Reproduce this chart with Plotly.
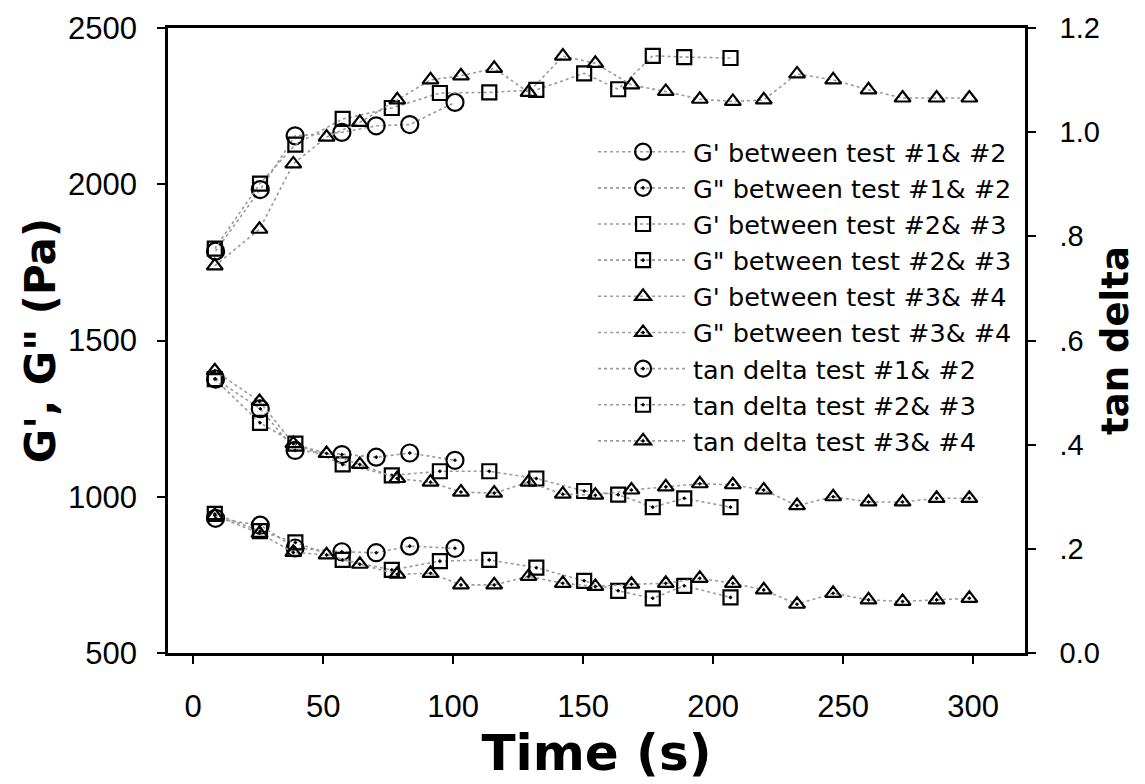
import plotly.graph_objects as go

# ---- data ----
t_12 = [8.6, 25.8, 39.2, 57.2, 70.4, 83.3, 100.7]
t_23 = [8.3, 25.7, 39.3, 57.5, 76.4, 94.9, 113.9, 132.0, 150.4, 163.5, 176.8, 188.9, 206.7]
t_34 = [8.3, 25.5, 38.5, 51.3, 64.1, 78.5, 91.3, 103.0, 115.8, 129.0, 142.2, 154.7,
        168.6, 181.8, 194.9, 207.6, 219.5, 232.3, 246.2, 259.8, 272.9, 286.0, 298.6]

gp_12 = [1786, 1983, 2155, 2166, 2187, 2191, 2262]
gp_23 = [1794, 2002, 2127, 2209, 2244, 2292, 2294, 2302, 2355, 2304, 2411, 2407, 2404]
gp_34 = [1739, 1856, 2065, 2151, 2198, 2270, 2334, 2347, 2371, 2294, 2410, 2387,
         2318, 2297, 2272, 2265, 2270, 2353, 2334, 2302, 2276, 2276, 2276]

gpp_12 = [931, 909, 836, 824, 821, 842, 835]
gpp_23 = [945, 890, 854, 798, 766, 794, 798, 773, 731, 699, 675, 715, 678]
gpp_34 = [940, 883, 822, 814, 784, 752, 755, 718, 718, 745, 723, 713,
          720, 723, 739, 723, 702, 656, 691, 670, 665, 670, 675]

tan_12 = [0.526, 0.469, 0.389, 0.381, 0.376, 0.384, 0.370]
tan_23 = [0.526, 0.442, 0.402, 0.362, 0.341, 0.349, 0.349, 0.335, 0.311, 0.304, 0.280, 0.297, 0.280]
tan_34 = [0.542, 0.483, 0.402, 0.383, 0.362, 0.335, 0.328, 0.309, 0.307, 0.328, 0.305, 0.303,
          0.313, 0.319, 0.325, 0.323, 0.313, 0.283, 0.300, 0.290, 0.290, 0.297, 0.297]

x_ticks = [0, 50, 100, 150, 200, 250, 300]
y1_ticks = [500, 1000, 1500, 2000, 2500]
y2_ticks = [0.0, 0.2, 0.4, 0.6, 0.8, 1.0, 1.2]
y2_tick_text = ["0.0", ".2", ".4", ".6", ".8", "1.0", "1.2"]

series = [
    ("G' between test #1& #2", t_12, gp_12, "circle-open", 17, "y"),
    ('G" between test #1& #2', t_12, gpp_12, "circle-open-dot", 17, "y"),
    ("G' between test #2& #3", t_23, gp_23, "square-open", 14, "y"),
    ('G" between test #2& #3', t_23, gpp_23, "square-open-dot", 14, "y"),
    ("G' between test #3& #4", t_34, gp_34, "triangle-up-open", 14, "y"),
    ('G" between test #3& #4', t_34, gpp_34, "triangle-up-open-dot", 14, "y"),
    ("tan delta test #1& #2", t_12, tan_12, "circle-open-dot", 17, "y2"),
    ("tan delta test #2& #3", t_23, tan_23, "square-open-dot", 14, "y2"),
    ("tan delta test #3& #4", t_34, tan_34, "triangle-up-open-dot", 14, "y2"),
]

fig = go.Figure()
for name, xs, ys, sym, sz, ax in series:
    fig.add_trace(go.Scatter(
        x=xs, y=ys, name=name, yaxis=ax, mode="lines+markers",
        line=dict(color="#9a9a9a", width=1.6, dash="dot"),
        marker=dict(symbol=sym, size=sz, color="black", line=dict(color="black", width=2.2)),
    ))

tick_font = "Liberation Sans, Arial, sans-serif"
title_font = "DejaVu Sans, Liberation Sans, sans-serif"
axis_common = dict(showgrid=False, zeroline=False, showline=True, linecolor="black",
                   linewidth=2.5, ticks="outside", ticklen=8, tickwidth=1.5,
                   tickcolor="black", automargin=False)

# the page body adds an 8px margin, so the figure is 8px smaller than the window
fig.update_layout(
    width=1137, height=776,
    margin=dict(l=160, r=120, t=20, b=131),
    paper_bgcolor="white", plot_bgcolor="white",
    font=dict(family=tick_font, color="black", size=30),
    showlegend=True,
    legend=dict(x=0.496, y=0.839, xanchor="left", yanchor="top",
                bgcolor="rgba(0,0,0,0)",
                font=dict(size=25.5, family=title_font),
                itemwidth=90, tracegroupgap=0),
    xaxis=dict(range=[-9.7, 320], tickvals=x_ticks, mirror=True, ticklabelstandoff=16,
               tickfont=dict(size=31),
               title=dict(text="<b>Time (s)</b>", font=dict(size=50, family=title_font),
                          standoff=4),
               **axis_common),
    yaxis=dict(range=[500, 2500], tickvals=y1_ticks, ticklabelstandoff=14,
               tickfont=dict(size=31),
               title=dict(text='<b>G\', G" (Pa)</b>', font=dict(size=42, family=title_font),
                          standoff=0),
               **axis_common),
    yaxis2=dict(range=[0, 1.2], tickvals=y2_ticks, ticktext=y2_tick_text, overlaying="y",
                side="right", ticklabelstandoff=18, tickfont=dict(size=29),
                title=dict(text="<b>tan delta</b>", font=dict(size=37, family=title_font),
                           standoff=4),
                **axis_common),
)

fig.write_html("out.html")
